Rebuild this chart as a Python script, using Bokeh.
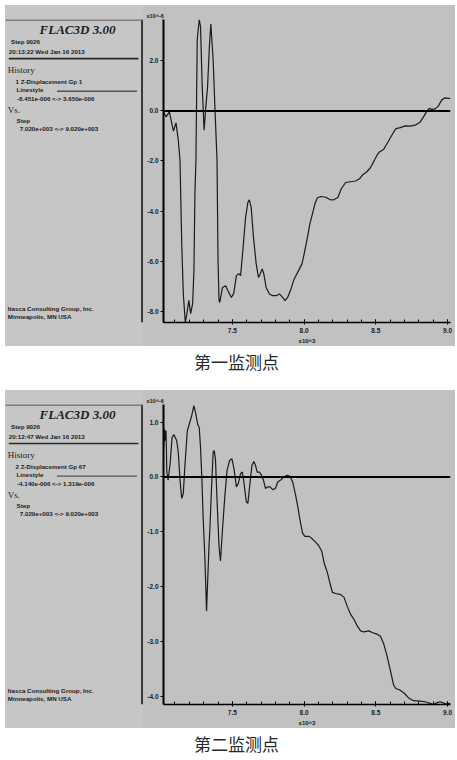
from bokeh.plotting import figure
from bokeh.models import Range1d, FixedTicker, PrintfTickFormatter, Span, Label, Title, Spacer
from bokeh.layouts import row, column
from bokeh.embed import file_html
from bokeh.resources import INLINE

# ---------------- data (step in x10^3, displacement in x10^-6) ----------------
step1 = [7.020, 7.038, 7.061, 7.089, 7.107, 7.123, 7.135, 7.147, 7.158, 7.172,
         7.181, 7.197, 7.209, 7.223, 7.232, 7.239, 7.246, 7.255, 7.269, 7.278,
         7.289, 7.303, 7.313, 7.327, 7.340, 7.350, 7.366, 7.379, 7.393, 7.400,
         7.407, 7.412, 7.431, 7.453, 7.469, 7.493, 7.509, 7.528, 7.544, 7.557,
         7.573, 7.592, 7.608, 7.618, 7.631, 7.647, 7.666, 7.682, 7.694, 7.708,
         7.719, 7.735, 7.758, 7.781, 7.805, 7.827, 7.846, 7.867, 7.885, 7.908,
         7.931, 7.961, 7.985, 8.005, 8.023, 8.040, 8.058, 8.075, 8.093, 8.116,
         8.151, 8.179, 8.208, 8.236, 8.259, 8.289, 8.324, 8.359, 8.386, 8.409,
         8.439, 8.462, 8.485, 8.508, 8.525, 8.555, 8.577, 8.601, 8.624, 8.640,
         8.670, 8.705, 8.740, 8.774, 8.809, 8.832, 8.855, 8.872, 8.889, 8.913,
         8.936, 8.958, 8.982, 9.005, 9.020]
disp1 = [-0.04, -0.24, -0.04, -0.81, -0.48, -1.17, -1.97, -5.30, -7.30, -8.45,
         -8.17, -7.57, -8.10, -7.70, -6.40, -3.30, -1.97, 2.83, 3.65, 3.37,
         1.10, -0.77, 0.03, 0.96, 2.60, 3.47, 2.03, 0.03, -1.97, -5.98,
         -7.58, -7.65, -7.05, -6.98, -7.18, -7.45, -7.30, -6.58, -6.50, -6.58,
         -5.58, -4.25, -3.65, -3.55, -3.85, -5.05, -6.11, -6.65, -6.51, -6.31,
         -6.51, -7.05, -7.31, -7.38, -7.38, -7.31, -7.42, -7.58, -7.45, -7.12,
         -6.71, -6.38, -6.11, -5.58, -5.05, -4.51, -4.11, -3.71, -3.47, -3.42,
         -3.45, -3.54, -3.55, -3.45, -3.11, -2.86, -2.83, -2.80, -2.71, -2.55,
         -2.42, -2.27, -2.02, -1.77, -1.64, -1.53, -1.31, -1.07, -0.84, -0.71,
         -0.67, -0.60, -0.61, -0.57, -0.44, -0.24, -0.01, 0.10, 0.06, 0.08,
         0.20, 0.43, 0.52, 0.50, 0.50]

step2 = [7.020, 7.028, 7.033, 7.038, 7.043, 7.052, 7.066, 7.080, 7.093, 7.112,
         7.123, 7.135, 7.147, 7.158, 7.170, 7.186, 7.199, 7.216, 7.232, 7.246,
         7.258, 7.269, 7.278, 7.287, 7.296, 7.308, 7.320, 7.336, 7.343, 7.354,
         7.366, 7.373, 7.382, 7.393, 7.407, 7.417, 7.431, 7.447, 7.463, 7.481,
         7.497, 7.511, 7.528, 7.541, 7.557, 7.569, 7.580, 7.597, 7.608, 7.620,
         7.636, 7.650, 7.661, 7.673, 7.689, 7.703, 7.717, 7.731, 7.746, 7.763,
         7.781, 7.800, 7.816, 7.839, 7.862, 7.881, 7.902, 7.920, 7.938, 7.954,
         7.971, 7.989, 8.005, 8.035, 8.058, 8.082, 8.104, 8.123, 8.139, 8.162,
         8.179, 8.197, 8.220, 8.255, 8.278, 8.300, 8.324, 8.347, 8.370, 8.393,
         8.416, 8.451, 8.474, 8.508, 8.532, 8.555, 8.577, 8.601, 8.624, 8.640,
         8.670, 8.700, 8.728, 8.762, 8.809, 8.843, 8.878, 8.901, 8.924, 8.947,
         8.970, 8.986, 9.020]
disp2 = [0.48, 0.87, 0.66, 0.84, 0.10, -0.06, 0.24, 0.72, 0.77, 0.66,
         0.45, -0.06, -0.39, -0.30, 0.24, 0.84, 0.96, 1.11, 1.30, 1.14,
         0.96, 0.90, 0.54, 0.00, -0.72, -1.44, -2.44, -1.32, -0.96, -0.24,
         0.45, 0.48, 0.33, -0.42, -1.26, -1.53, -0.96, -0.36, 0.12, 0.30,
         0.33, 0.15, -0.18, -0.12, 0.06, 0.09, -0.09, -0.45, -0.48, -0.18,
         0.21, 0.28, 0.21, 0.09, 0.09, 0.03, -0.06, -0.21, -0.18, -0.18,
         -0.23, -0.21, -0.09, -0.05, 0.01, 0.03, 0.01, -0.09, -0.30, -0.51,
         -0.78, -1.02, -1.08, -1.08, -1.13, -1.19, -1.26, -1.35, -1.56, -1.74,
         -1.92, -2.10, -2.12, -2.14, -2.19, -2.35, -2.50, -2.59, -2.71, -2.80,
         -2.82, -2.80, -2.83, -2.86, -2.90, -3.04, -3.25, -3.52, -3.79, -3.85,
         -3.88, -3.94, -4.02, -4.07, -4.08, -4.09, -4.12, -4.14, -4.11, -4.09,
         -4.11, -4.13, -4.12]

x_limits = (7.02, 9.02)
y_limits1 = (-8.451, 3.650)
y_limits2 = (-4.140, 1.319)
x_ticks = [7.5, 8.0, 8.5, 9.0]
x_minor_ticks = [round(7.1 + 0.1 * i, 1) for i in range(20)]
y_ticks1 = [-8.0, -6.0, -4.0, -2.0, 0.0, 2.0]
y_ticks2 = [-4.0, -3.0, -2.0, -1.0, 0.0, 1.0]

titles = ["FLAC3D 3.00", "FLAC3D 3.00"]
step_lines = ["Step 9026", "Step 9026"]
date_lines = ["20:13:22  Wed Jan 16 2013", "20:12:47  Wed Jan 16 2013"]
history_items = ["1 Z-Displacement Gp 1", "2 Z-Displacement Gp 67"]
history_ranges = ["-8.451e-006 <-> 3.650e-006", "-4.140e-006 <-> 1.319e-006"]
vs_ranges = ["7.020e+003 <-> 9.020e+003", "7.020e+003 <-> 9.020e+003"]
captions = ["第一监测点", "第二监测点"]

# ---------------- styling ----------------
BG = "#c1c1c1"
INFO_BG = "#c6c6c6"
INK = "#1c1c1c"
PANEL_H = [341, 338]
INFO_W = 138
CHART_W = 312
PAGE_W = 455
SANS = "Liberation Sans"
SERIF = "Liberation Serif"


def lab(p, x, y, text, font=SANS, size="6.2px", style="bold", align="left", color=INK):
    p.add_layout(Label(x=x, y=y, text=text, text_font=font, text_font_size=size,
                       text_font_style=style, text_align=align, text_baseline="middle",
                       text_color=color))


def info_fig(i):
    h = PANEL_H[i]
    p = figure(width=INFO_W, height=h, x_range=Range1d(0, INFO_W),
               y_range=Range1d(h, 0), x_axis_location=None, y_axis_location=None,
               output_backend="svg", toolbar_location=None, min_border=0,
               styles={"background-color": INFO_BG})
    p.grid.visible = False
    p.background_fill_color = INFO_BG
    p.border_fill_color = INFO_BG
    p.outline_line_color = None
    lab(p, 72, 11.5, titles[i], font=SERIF, size="13px", style="bold italic", align="center")
    lab(p, 5.5, 24.5, step_lines[i])
    lab(p, 3.3, 36.2, date_lines[i])
    p.segment(x0=[3.3], y0=[44], x1=[133], y1=[44], line_color="#2a2a2a", line_width=1.6)
    lab(p, 2.3, 56.5, "History", font=SERIF, size="9px", style="normal")
    lab(p, 10, 69.5, history_items[i])
    lab(p, 11, 78.5, "Linestyle")
    p.segment(x0=[51.5], y0=[80.7], x1=[131.5], y1=[80.7], line_color="#555555", line_width=1.4)
    lab(p, 11.5, 88.7, history_ranges[i])
    lab(p, 2.3, 101.5, "Vs.", font=SERIF, size="9px", style="normal")
    lab(p, 11, 113.5, "Step")
    lab(p, 14.3, 122.7, vs_ranges[i])
    lab(p, 2.3, h - 15.5, "Itasca Consulting Group, Inc.")
    lab(p, 2.3, h - 6.3, "Minneapolis, MN  USA")
    p.add_layout(Span(location=137, dimension="height", line_color="#3a3a3a", line_width=3))
    p.add_layout(Span(location=0.7, dimension="width", line_color="#666666", line_width=1.5))
    return p


def chart_fig(i, steps, disp, ylim, yticks):
    p = figure(width=CHART_W, height=PANEL_H[i], x_range=Range1d(*x_limits),
               y_range=Range1d(*ylim), output_backend="svg", toolbar_location=None,
               min_border_left=20, min_border_right=5, min_border_top=14,
               min_border_bottom=23, styles={"background-color": BG})
    p.grid.visible = False
    p.background_fill_color = BG
    p.border_fill_color = BG
    p.outline_line_color = None

    p.title = Title(text="x10^-6", align="left", offset=-17, standoff=2,
                    text_font=SANS, text_font_size="5.5px", text_font_style="bold",
                    text_color=INK, vertical_align="bottom")

    xa = p.xaxis[0]
    xa.ticker = FixedTicker(ticks=x_ticks, minor_ticks=x_minor_ticks)
    xa.formatter = PrintfTickFormatter(format="%.1f")
    xa.axis_line_color = "black"
    xa.axis_line_width = 1.6
    xa.major_tick_in = 3
    xa.major_tick_out = 2
    xa.minor_tick_in = 3
    xa.minor_tick_out = 0
    xa.major_tick_line_color = "black"
    xa.minor_tick_line_color = "black"
    xa.major_label_text_font = SANS
    xa.major_label_text_font_size = "6.5px"
    xa.major_label_text_font_style = "bold"
    xa.major_label_text_color = INK
    xa.major_label_standoff = 3
    xa.axis_label = "x10^3"
    xa.axis_label_text_font = SANS
    xa.axis_label_text_font_size = "6px"
    xa.axis_label_text_font_style = "bold"
    xa.axis_label_text_color = INK
    xa.axis_label_standoff = 2

    ya = p.yaxis[0]
    ya.ticker = FixedTicker(ticks=yticks, minor_ticks=[])
    ya.formatter = PrintfTickFormatter(format="%.1f")
    ya.axis_line_color = "black"
    ya.axis_line_width = 2
    ya.major_tick_in = 0
    ya.major_tick_out = 3
    ya.major_tick_line_color = "black"
    ya.major_label_text_font = SANS
    ya.major_label_text_font_size = "6.5px"
    ya.major_label_text_font_style = "bold"
    ya.major_label_text_color = INK
    ya.major_label_standoff = 2

    p.add_layout(Span(location=0, dimension="width", line_color="black", line_width=2))
    p.line(steps, disp, line_color="#1a1a1a", line_width=1.2)
    return p


def caption_fig(text, h, y):
    p = figure(width=PAGE_W, height=h, x_range=Range1d(0, PAGE_W),
               y_range=Range1d(h, 0), x_axis_location=None, y_axis_location=None,
               output_backend="svg", toolbar_location=None, min_border=0)
    p.grid.visible = False
    p.background_fill_color = "white"
    p.border_fill_color = "white"
    p.outline_line_color = None
    p.add_layout(Label(x=236, y=y, text=text, text_font="Noto Sans CJK SC",
                       text_font_size="17px", text_align="center",
                       text_baseline="middle", text_color="#2a2a2a"))
    return p


panel_style = {"background-color": BG, "outline": "1px solid #707070", "outline-offset": "-1px"}
panel1 = row(info_fig(0), chart_fig(0, step1, disp1, y_limits1, y_ticks1), styles=panel_style)
panel2 = row(info_fig(1), chart_fig(1, step2, disp2, y_limits2, y_ticks2), styles=panel_style)
layout = column(
    Spacer(width=PAGE_W, height=5),
    row(Spacer(width=5, height=PANEL_H[0]), panel1),
    caption_fig(captions[0], 44, 15),
    row(Spacer(width=5, height=PANEL_H[1]), panel2),
    caption_fig(captions[1], 31, 15),
)

with open("out.html", "w") as f:
    f.write(file_html(layout, INLINE))
